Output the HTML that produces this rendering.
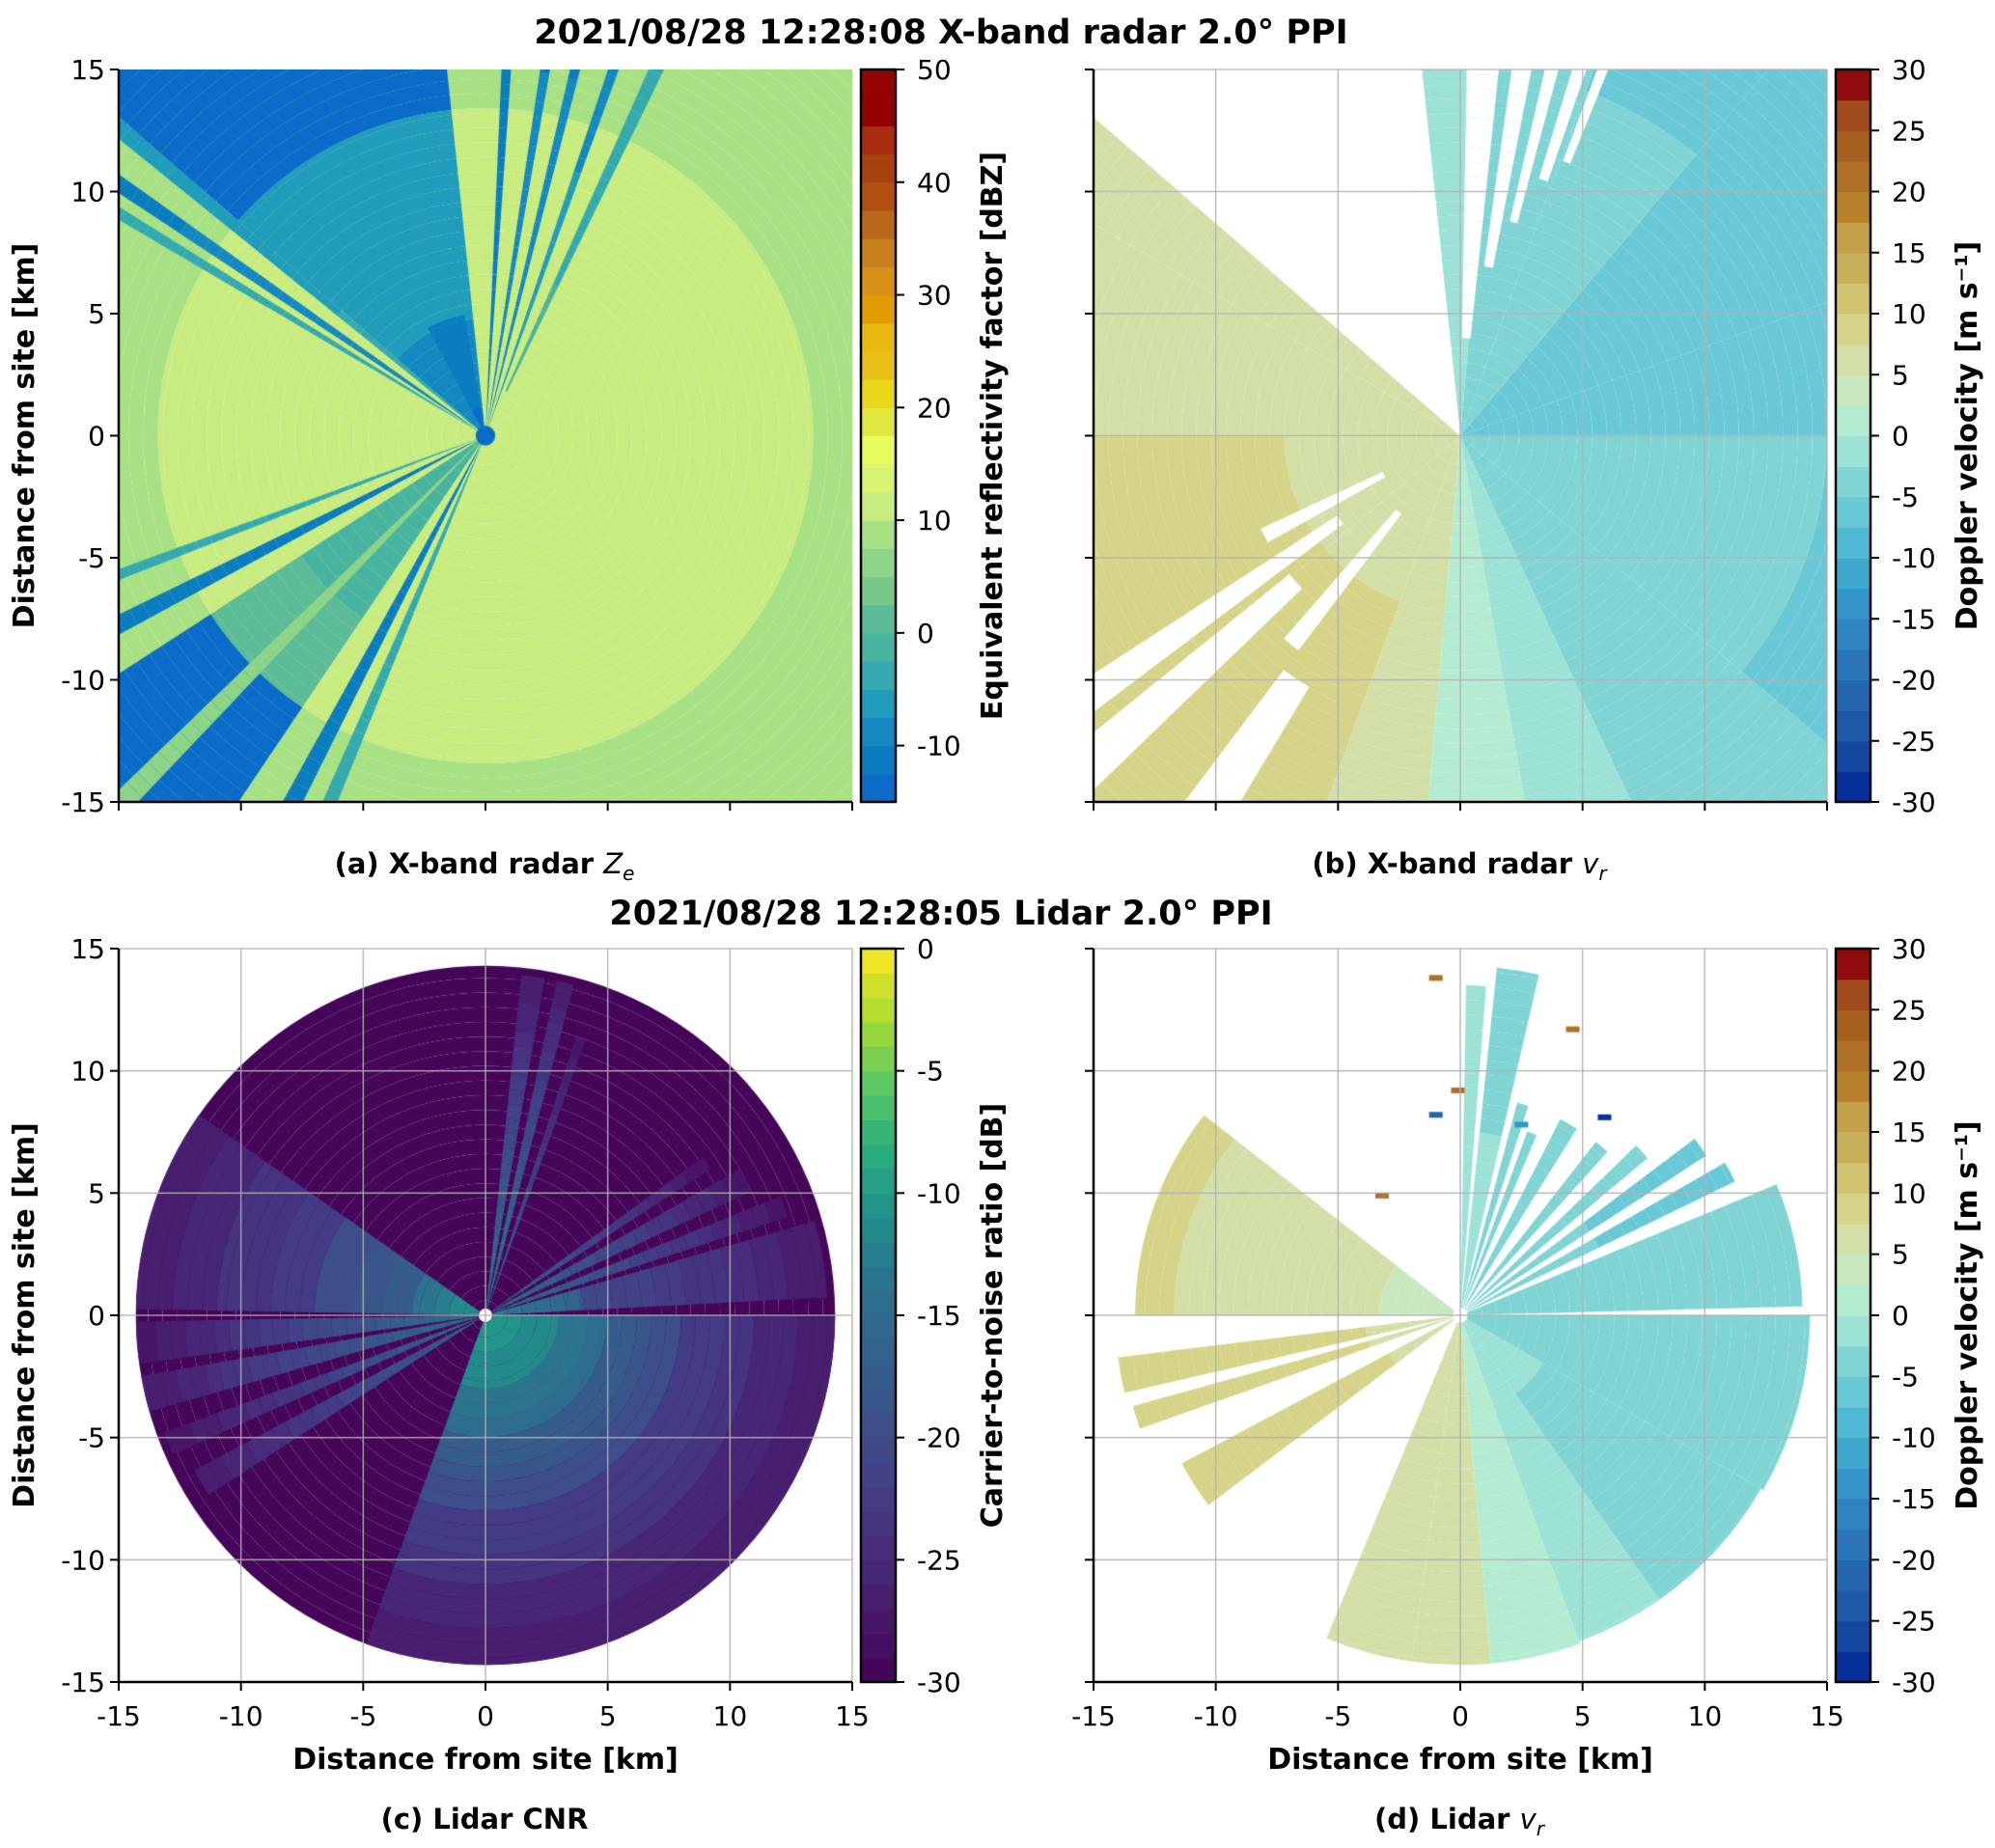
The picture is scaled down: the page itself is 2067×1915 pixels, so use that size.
<!DOCTYPE html>
<html><head><meta charset="utf-8">
<style>
html,body{margin:0;padding:0;background:#fff;}
body{width:2067px;height:1915px;position:relative;overflow:hidden;font-family:"DejaVu Sans","Liberation Sans",sans-serif;}
canvas{position:absolute;}
svg{position:absolute;left:0;top:0;}
</style></head><body>
<canvas id="cA" width="760" height="759" style="left:123px;top:72px"></canvas>
<canvas id="cB" width="760" height="759" style="left:1133px;top:72px"></canvas>
<canvas id="cC" width="760" height="760" style="left:123px;top:983px"></canvas>
<canvas id="cD" width="760" height="760" style="left:1133px;top:983px"></canvas>
<svg id="ov" width="2067" height="1915" xmlns="http://www.w3.org/2000/svg"></svg>
<script>
// ---- data: sectors [az0, az1, r0(km), r1(km), valueNear, valueFar]; null = no data ----
const zeSectors = [
 [0,360,0,13.4,10,10],[0,360,13.4,30,8.5,8],
 [96,139,13.4,30,-13,-13],[96,139,0,13.4,-9,-5],[100,118,0,5,-13,-11],
 [139,141,0,30,-4,-8],[144.5,146.5,0,30,-9,-11],[148,149.5,0,30,-3,-6],
 [86,87.5,0,30,-10,-11],[80,81.5,0,30,-9,-11],[75.5,77,0,30,-8,-12],[70,71.5,0,30,-6,-10],[64,66,2,30,-2,-5],
 [200,201.5,0,30,-3,-4],[206,208.5,0,30,-11,-12],
 [213,236,0,13.4,-2,1],[213,236,13.4,30,-13,-13],[224,226.5,0,30,6,6],
 [241,243.5,0,30,-10,-12],[246,248,0,30,-4,-4],[0,360,0,0.4,-13,-13]
];
const vrRadarSectors = [
 [0,20,0,30,-5,-6],[20,50,0,30,-5,-6],[50,70,0,30,-4.5,-5.5],[70,85,0,30,-3,-3.5],[85,96,0,30,-2,-3],
 [139,150,0,30,5,6],[150,180,0,30,6,8],[180,220,0,30,7,9],[220,250,0,30,7,9],[250,265,0,30,5,7],
 [265,280,0,30,2,2],[280,295,0,30,-1,-2],[295,320,0,30,-3,-5],[320,360,0,30,-4,-6],
 [96,139,0,30,null,null],[133,137,7,11,null,null],
 [84,89,4,30,null,null],[79,82,7,30,null,null],[75,77,9,30,null,null],[71,73,11,30,null,null],[68,69.5,12,30,null,null],
 [205,209,3.5,9,null,null],[213,217,6,30,null,null],[219,224,9,30,null,null],[229,233,4,11,null,null],[233,239,12,30,null,null]
];
const cnrSectors = [
 [0,360,0,14.3,-29.5,-29.5],
 [145,179,0.3,3,-11,-14],[145,179,3,7,-17,-20],[145,179,7,11,-22,-24],[145,179,11,14.3,-25,-27],
 [181,188,0.3,14.3,-14,-28],[190,196,0.3,14.3,-15,-27],
 [200,204,0.3,14,-16,-28],[208,213,0.3,13.5,-17,-27],
 [250,360,0.3,3,-10,-12],[250,360,3,5,-13,-15],[250,360,5,8,-17,-20],[250,360,8,11,-22,-24],[250,360,11,14.3,-25,-27],
 [3,16,0.3,4,-12,-17],[3,16,4,14,-20,-27],[18,22,0.3,13,-15,-28],[25,30,0.3,12,-15,-28],[33,36,0.3,11,-16,-28],
 [70,72,0.3,12,-17,-28],[75,78,0.3,14,-13,-27],[80,84,0.3,14,-14,-27]
];
const vrLidarSectors = [
 [142,180,0.3,13.3,4,8],[187,193,0.3,14.1,7,9],[195.5,199.5,0.3,13.9,7,9],[208,217,0.3,12.9,7,9],
 [247.5,262,0.3,14.3,7,7],[262,275,0.3,14.3,5,5],[275,290,0.3,14.3,2,1],[290,305,0.3,14.2,0,-2],
 [305,330,0.3,14.2,-2,-4],[330,360,0.3,14.3,-3,-5],
 [1.5,22.5,0.3,14,-3,-5],[26,30,0.3,12.5,-4,-6],[33,37,0.3,12,-4,-6],[40,44,0.3,10,-4,-5],
 [48,52,0.3,9,-4,-5],[58,63,0.3,9,-3,-4],[67,70,0.3,8,-3,-4],[72,75,0.3,9,-3,-3],
 [77,84,0.3,14.3,-2,-3],[85.5,89,0.3,13.5,-2,-2]
];
const lidarSpecks = [[-1,13.8,22],[4.6,11.7,20],[-0.1,9.2,20],[-3.2,4.9,22],[-1,8.2,-22],[2.5,7.8,-14],[5.9,8.1,-28]];
// ---- colormaps ----
const zeStops = [-15,-12.5,-10,-7.5,-5,-2.5,0,2.5,5,7.5,10,12.5,15,17.5,20,22.5,25,27.5,30,32.5,35,37.5,40,42.5,45,47.5];
const zeCols = ['#0a6cc8','#0a7cc0','#1488c0','#209cbc','#34aab0','#48b4a0','#5cbc98','#78c88c','#8cd488','#a8e084','#c8ec80','#d8f470','#e8fc60','#e0e840','#e8d818','#e8c018','#e8b810','#e09c00','#d89018','#c8801c','#b86818','#b05010','#a84010','#a82c10','#940000','#940404'];
const vrStops = [-30,-27.5,-25,-22.5,-20,-17.5,-15,-12.5,-10,-7.5,-5,-2.5,0,2.5,5,7.5,10,12.5,15,17.5,20,22.5,25,27.5];
const vrCols = ['#06309a','#1448a0','#1e58a8','#2466b0','#2a74b8','#2e84c0','#3496c8','#3ea8ce','#50b8d4','#68c8d6','#80d4d4','#9ce2d6','#b4ecd2','#c8e8c0','#d2e0a8','#d6d488','#d0c470','#c8b058','#c4a048','#b88028','#b07028','#a86020','#a04c1c','#900c0c'];
const cnrStops = [];
const viridis = ['#440154','#48186a','#472d7b','#424086','#3b528b','#33638d','#2c728e','#21918c','#28ae80','#5ec962','#addc30','#fde725'];
for (let v=-30; v<0; v+=1) cnrStops.push(v);
function hex(c){return [parseInt(c.slice(1,3),16),parseInt(c.slice(3,5),16),parseInt(c.slice(5,7),16)];}
function viridisAt(t){t=Math.max(0,Math.min(1,t));const n=viridis.length-1;const i=Math.min(n-1,Math.floor(t*n));const f=t*n-i;const a=hex(viridis[i]),b=hex(viridis[i+1]);return 'rgb('+a.map((x,k)=>Math.round(x+(b[k]-x)*f)).join(',')+')';}
const cnrCols = cnrStops.map(v=>viridisAt((v+30.5)/30));
function discrete(stops,cols){return v=>{let i=0;for(let k=0;k<stops.length;k++){if(v>=stops[k])i=k;}return cols[i];};}
const zeMap=discrete(zeStops,zeCols), vrMap=discrete(vrStops,vrCols), cnrMap=discrete(cnrStops,cnrCols);

function drawPPI(id,sectors,cmap,maxR){
  const cv=document.getElementById(id),ctx=cv.getContext('2d');
  const W=cv.width,H=cv.height,cx=W/2,cy=H/2,s=W/30;
  ctx.save();ctx.beginPath();ctx.rect(0,0,W,H);ctx.clip();
  sectors.forEach(sc=>{
    const [a0,a1,r0,r1,v0,v1]=sc;
    const rr1=Math.min(r1,maxR);
    const step=0.6;
    for(let r=r0;r<rr1-1e-6;r+=step){
      const re=Math.min(rr1,r+step);
      ctx.beginPath();
      ctx.arc(cx,cy,re*s,-a0*Math.PI/180,-a1*Math.PI/180,true);
      ctx.arc(cx,cy,r*s,-a1*Math.PI/180,-a0*Math.PI/180,false);
      ctx.closePath();
      if(v0===null){ctx.fillStyle='#ffffff';}
      else{const t=((r+re)/2-r0)/Math.max(0.01,rr1-r0);ctx.fillStyle=cmap(v0+(v1-v0)*t);}
      ctx.fill();
    }
  });
  ctx.restore();
}
drawPPI('cA',zeSectors,zeMap,30);
drawPPI('cB',vrRadarSectors,vrMap,30);
drawPPI('cC',cnrSectors,cnrMap,14.3);
drawPPI('cD',vrLidarSectors,vrMap,14.3);
(function(){const cv=document.getElementById('cC'),ctx=cv.getContext('2d');ctx.fillStyle='#fff';ctx.beginPath();ctx.arc(380,380,7,0,7);ctx.fill();})();
(function(){const cv=document.getElementById('cD'),ctx=cv.getContext('2d');const s=760/30;
 lidarSpecks.forEach(p=>{ctx.fillStyle=vrMap(p[2]);ctx.fillRect(380+p[0]*s-7,380-p[1]*s-3,14,6);});})();

// ---- overlay ----
const NS='http://www.w3.org/2000/svg';
const ov=document.getElementById('ov');
function el(tag,attrs,name,text){const e=document.createElementNS(NS,tag);for(const k in attrs)e.setAttribute(k,attrs[k]);
 
 
 if(text!==undefined)e.textContent=text;ov.appendChild(e);return e;}
const kmTicks=[-15,-10,-5,0,5,10,15];
const panels=[
 {x:123,y:72,w:760,h:759,grid:false,ylab:true,xlab:false,cb:{x:892,cmap:'ze'}},
 {x:1133,y:72,w:760,h:759,grid:true,ylab:false,xlab:false,cb:{x:1902,cmap:'vr'}},
 {x:123,y:983,w:760,h:760,grid:true,ylab:true,xlab:true,cb:{x:892,cmap:'cnr'}},
 {x:1133,y:983,w:760,h:760,grid:true,ylab:false,xlab:true,cb:{x:1902,cmap:'vr'}}
];
const cbTicks={ze:[-10,0,10,20,30,40,50],vr:[-30,-25,-20,-15,-10,-5,0,5,10,15,20,25,30],cnr:[-30,-25,-20,-15,-10,-5,0]};
const cbRange={ze:[-15,50],vr:[-30,30],cnr:[-30,0]};
const cbBands={ze:[zeStops,zeCols],vr:[vrStops,vrCols],cnr:[cnrStops,cnrCols]};
const cbLabel={ze:'Equivalent reflectivity factor [dBZ]',vr:'Doppler velocity [m s⁻¹]',cnr:'Carrier-to-noise ratio [dB]'};
panels.forEach((p,pi)=>{
  const sx=v=>p.x+(v+15)/30*p.w, sy=v=>p.y+p.h-(v+15)/30*p.h;
  if(p.grid){kmTicks.forEach(t=>{
    el('line',{x1:sx(t),x2:sx(t),y1:p.y,y2:p.y+p.h,stroke:'#b0b0b0','stroke-width':1.6,'stroke-opacity':0.8},'x-gridline');
    el('line',{x1:p.x,x2:p.x+p.w,y1:sy(t),y2:sy(t),stroke:'#b0b0b0','stroke-width':1.6,'stroke-opacity':0.8},'y-gridline');});}
  el('line',{x1:p.x,x2:p.x,y1:p.y,y2:p.y+p.h,stroke:'#000','stroke-width':2.5},'left-spine');
  el('line',{x1:p.x,x2:p.x+p.w,y1:p.y+p.h,y2:p.y+p.h,stroke:'#000','stroke-width':2.5},'bottom-spine');
  kmTicks.forEach(t=>{
    el('line',{x1:sx(t),x2:sx(t),y1:p.y+p.h,y2:p.y+p.h+9,stroke:'#000','stroke-width':2},'x-tick');
    el('line',{x1:p.x-9,x2:p.x,y1:sy(t),y2:sy(t),stroke:'#000','stroke-width':2},'y-tick');
    if(p.xlab)el('text',{x:sx(t),y:p.y+p.h+45,'font-size':28,'text-anchor':'middle'},'x-tick-label',t);
    if(p.ylab)el('text',{x:p.x-14,y:sy(t)+10,'font-size':28,'text-anchor':'end'},'y-tick-label',t);
  });
  if(p.xlab)el('text',{x:p.x+p.w/2,y:p.y+p.h+90,'font-size':30,'font-weight':'bold','text-anchor':'middle'},'x-axis-title','Distance from site [km]');
  if(p.ylab)el('text',{x:0,y:0,'font-size':30,'font-weight':'bold','text-anchor':'middle',transform:`translate(35,${p.y+p.h/2}) rotate(-90)`},'y-axis-title','Distance from site [km]');
  const c=p.cb,[lo,hi]=cbRange[c.cmap],[st,co]=cbBands[c.cmap];
  const cy=v=>p.y+p.h-(v-lo)/(hi-lo)*p.h;
  st.forEach((v,i)=>{const v2=i<st.length-1?st[i+1]:hi;
    el('rect',{x:c.x,y:cy(v2),width:36,height:cy(v)-cy(v2)+0.6,fill:co[i]},'colorbar-band');});
  el('rect',{x:c.x,y:p.y,width:36,height:p.h,fill:'none',stroke:'#000','stroke-width':2.5},'colorbar-frame');
  cbTicks[c.cmap].forEach(t=>{
    el('line',{x1:c.x+36,x2:c.x+45,y1:cy(t),y2:cy(t),stroke:'#000','stroke-width':2},'colorbar-tick');
    el('text',{x:c.x+58,y:cy(t)+10,'font-size':28},'colorbar-tick-label',t);
  });
  el('text',{x:0,y:0,'font-size':30,'font-weight':'bold','text-anchor':'middle',transform:`translate(${c.x+146},${p.y+p.h/2}) rotate(-90)`},'colorbar-title',cbLabel[c.cmap]);
});
el('text',{x:975,y:45,'font-size':35,'font-weight':'bold','text-anchor':'middle'},'radar-figure-title','2021/08/28 12:28:08 X-band radar 2.0° PPI');
el('text',{x:975,y:958,'font-size':35,'font-weight':'bold','text-anchor':'middle'},'lidar-figure-title','2021/08/28 12:28:05 Lidar 2.0° PPI');
const caps=[[502,905,'(a) X-band radar ','Z','e'],[1512,905,'(b) X-band radar ','v','r'],[502,1895,'(c) Lidar CNR'],[1512,1895,'(d) Lidar ','v','r']];
caps.forEach(cp=>{const t=el('text',{x:cp[0],y:cp[1],'font-size':29,'font-weight':'bold','text-anchor':'middle'},'panel-caption');
  const a=document.createElementNS(NS,'tspan');a.textContent=cp[2];t.appendChild(a);
  if(cp[3]){const b=document.createElementNS(NS,'tspan');b.setAttribute('font-style','italic');b.setAttribute('font-weight','normal');b.textContent=cp[3];t.appendChild(b);
   const d=document.createElementNS(NS,'tspan');d.setAttribute('font-style','italic');d.setAttribute('font-weight','normal');d.setAttribute('font-size','20');d.setAttribute('dy','7');d.textContent=cp[4];t.appendChild(d);}
});
</script>
</body></html>
